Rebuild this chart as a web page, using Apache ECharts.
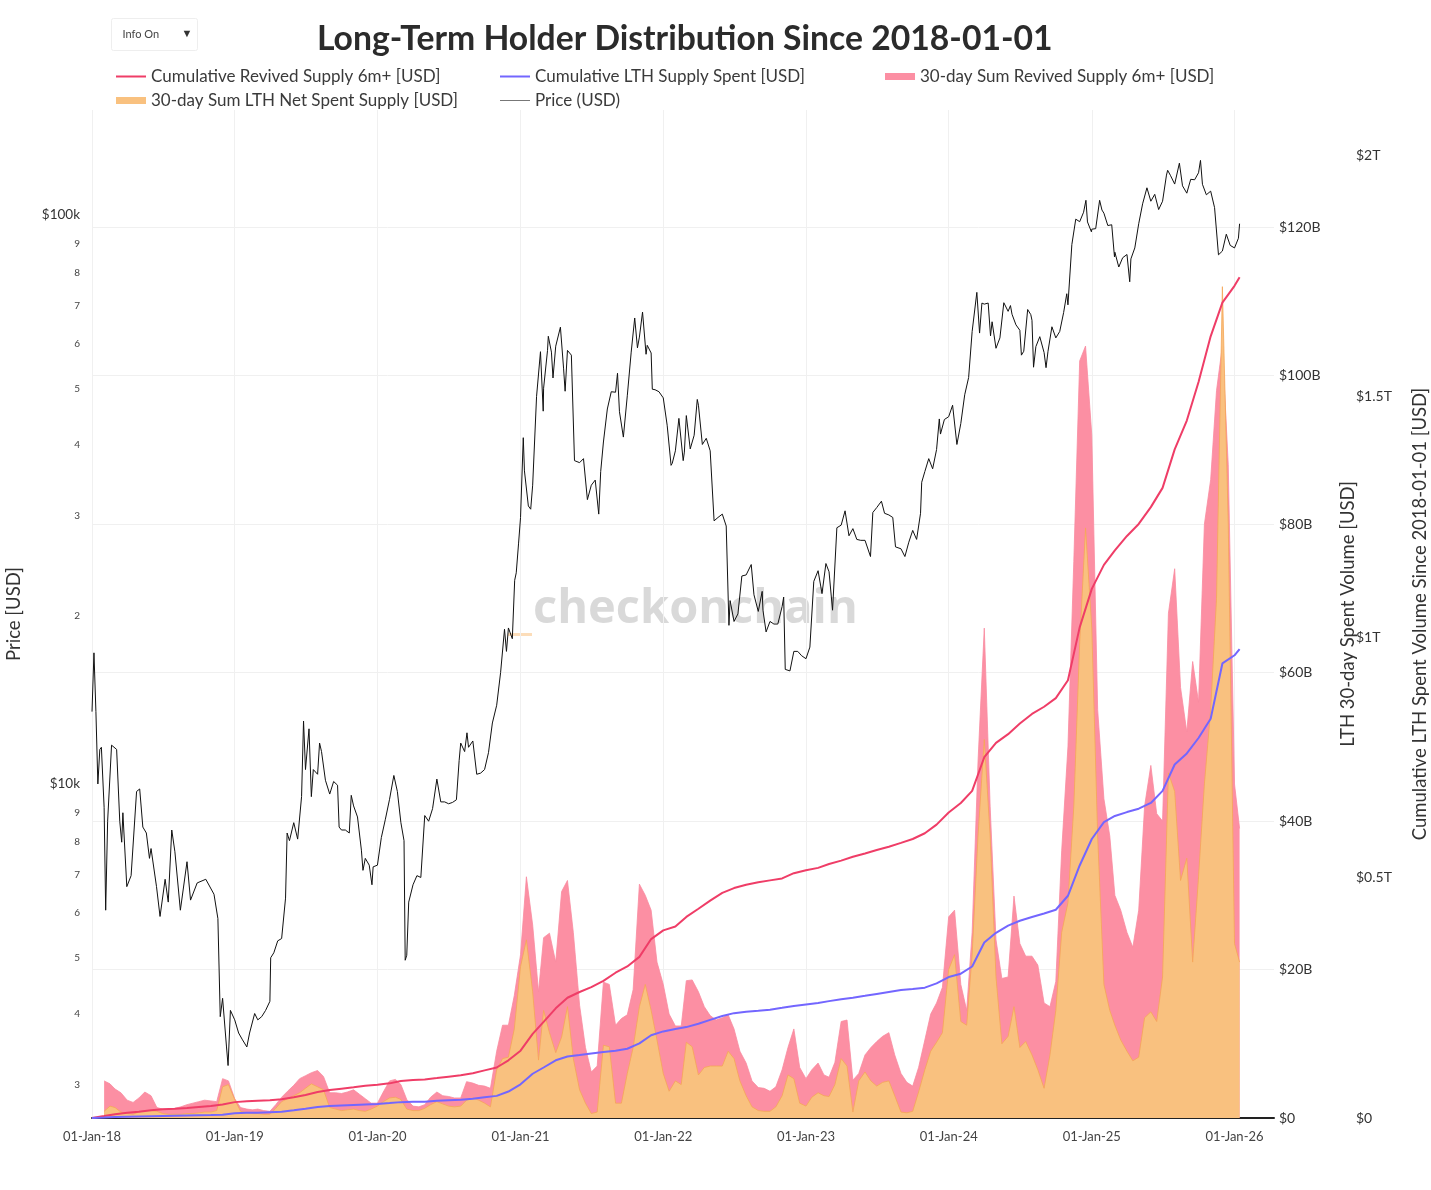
<!DOCTYPE html>
<html>
<head>
<meta charset="utf-8">
<script src="https://cdn.jsdelivr.net/npm/echarts@6/dist/echarts.min.js"></script>
<style>
html,body{margin:0;padding:0;background:#fff;}
#chart{width:1431px;height:1190px;}
</style>
</head>
<body>
<div id="chart"></div>
<script>
// ---------- DATA ----------
const priceTickValues = [3000,4000,5000,6000,7000,8000,9000,10000,20000,30000,40000,50000,60000,70000,80000,90000,100000];
const sumTickLabelsB = [0,20,40,60,80,100,120];
const cumTickLabelsT = [0,0.5,1,1.5,2];

// 30-day sums, semi-monthly (USD billions)
const areaDates = [
'2018-02-01','2018-02-16','2018-03-01','2018-03-16','2018-04-01','2018-04-16','2018-05-01','2018-05-16','2018-06-01','2018-06-16','2018-07-01','2018-07-16','2018-08-01','2018-08-16','2018-09-01','2018-09-16','2018-10-01','2018-10-16','2018-11-01','2018-11-16','2018-12-01','2018-12-16',
'2019-01-01','2019-01-16','2019-02-01','2019-02-16','2019-03-01','2019-03-16','2019-04-01','2019-04-16','2019-05-01','2019-05-16','2019-06-01','2019-06-16','2019-07-01','2019-07-16','2019-08-01','2019-08-16','2019-09-01','2019-09-16','2019-10-01','2019-10-16','2019-11-01','2019-11-16','2019-12-01','2019-12-16',
'2020-01-01','2020-01-16','2020-02-01','2020-02-16','2020-03-01','2020-03-16','2020-04-01','2020-04-16','2020-05-01','2020-05-16','2020-06-01','2020-06-16','2020-07-01','2020-07-16','2020-08-01','2020-08-16','2020-09-01','2020-09-16','2020-10-01','2020-10-16','2020-11-01','2020-11-16','2020-12-01','2020-12-16',
'2021-01-01','2021-01-16','2021-02-01','2021-02-16','2021-03-01','2021-03-16','2021-04-01','2021-04-16','2021-05-01','2021-05-16','2021-06-01','2021-06-16','2021-07-01','2021-07-16','2021-08-01','2021-08-16','2021-09-01','2021-09-16','2021-10-01','2021-10-16','2021-11-01','2021-11-16','2021-12-01','2021-12-16',
'2022-01-01','2022-01-16','2022-02-01','2022-02-16','2022-03-01','2022-03-16','2022-04-01','2022-04-16','2022-05-01','2022-05-16','2022-06-01','2022-06-16','2022-07-01','2022-07-16','2022-08-01','2022-08-16','2022-09-01','2022-09-16','2022-10-01','2022-10-16','2022-11-01','2022-11-16','2022-12-01','2022-12-16',
'2023-01-01','2023-01-16','2023-02-01','2023-02-16','2023-03-01','2023-03-16','2023-04-01','2023-04-16','2023-05-01','2023-05-16','2023-06-01','2023-06-16','2023-07-01','2023-07-16','2023-08-01','2023-08-16','2023-09-01','2023-09-16','2023-10-01','2023-10-16','2023-11-01','2023-11-16','2023-12-01','2023-12-16',
'2024-01-01','2024-01-16','2024-02-01','2024-02-16','2024-03-01','2024-03-16','2024-04-01','2024-04-16','2024-05-01','2024-05-16','2024-06-01','2024-06-16','2024-07-01','2024-07-16','2024-08-01','2024-08-16','2024-09-01','2024-09-16','2024-10-01','2024-10-16','2024-11-01','2024-11-16','2024-12-01','2024-12-16',
'2025-01-01','2025-01-16','2025-02-01','2025-02-16','2025-03-01','2025-03-16','2025-04-01','2025-04-16','2025-05-01','2025-05-16','2025-06-01','2025-06-16','2025-07-01','2025-07-16','2025-08-01','2025-08-16','2025-09-01','2025-09-16','2025-10-01','2025-10-16','2025-11-01','2025-11-16','2025-12-01','2025-12-16',
'2026-01-01','2026-01-14'];

const revived30dB = [
5.0,4.6,3.9,3.4,2.4,2.1,2.7,3.5,3.0,1.4,1.2,1.2,1.3,1.5,1.8,2.0,2.2,2.4,2.3,2.2,5.3,5.0,
2.6,1.4,1.2,1.1,1.2,1.0,0.9,1.8,2.8,3.6,4.4,5.3,5.7,6.1,6.4,5.6,3.4,3.4,3.3,3.5,3.8,3.2,2.6,2.0,
2.0,3.5,5.0,5.2,4.5,2.5,1.6,1.5,1.8,2.8,3.5,3.0,2.9,2.7,2.7,4.9,4.7,4.4,4.3,4.0,9.0,12.5,12.5,16.5,
22.0,32.5,26.0,17.0,24.3,24.9,21.0,30.5,32.0,25.0,15.2,9.5,6.2,7.0,18.3,18.0,12.5,13.4,13.9,17.3,31.5,30.0,28.0,21.0,
18.0,14.0,12.4,12.4,18.5,18.6,17.0,15.0,13.8,13.2,13.5,13.9,12.0,9.0,7.4,5.0,4.1,4.0,3.6,4.2,6.5,9.5,12.0,6.8,
5.3,6.5,7.4,5.8,5.5,7.5,13.0,13.2,5.1,6.0,8.5,9.5,10.3,11.0,11.5,8.5,6.0,4.8,4.3,6.8,10.5,14.0,15.5,17.6,
27.1,28.0,18.0,14.5,25.0,48.0,66.0,42.0,24.0,18.8,19.0,29.9,23.5,21.8,21.8,20.6,15.5,15.0,18.4,36.0,50.0,75.0,102.0,104.0,
92.0,55.0,43.0,38.0,30.0,28.0,25.0,23.0,28.0,42.0,47.5,41.0,40.0,68.0,74.0,58.0,52.0,61.5,56.0,80.0,86.0,98.0,104.0,88.0,
45.0,39.0];

const lthNet30dB = [
0.9,1.6,1.4,0.8,0.6,0.5,0.8,1.0,1.0,0.9,0.6,0.5,0.5,0.5,0.6,0.6,0.7,0.8,0.8,1.0,4.2,4.5,
2.5,0.9,0.7,0.6,0.6,0.5,0.5,1.3,2.2,2.6,3.0,3.4,4.0,4.6,4.2,3.8,1.4,1.2,1.0,1.1,1.2,1.0,0.9,1.2,
1.6,2.2,2.7,2.8,2.5,1.2,1.0,1.0,1.3,1.8,2.2,1.9,1.6,1.5,1.6,2.4,2.7,2.4,2.0,1.5,6.5,8.0,8.2,12.0,
20.4,24.0,17.0,7.8,14.5,11.5,8.8,10.9,15.0,8.0,3.8,2.0,0.6,0.8,9.8,9.6,2.0,2.0,6.0,9.5,15.0,18.0,14.5,10.5,
6.0,3.6,5.0,4.5,10.2,9.6,5.8,6.8,7.0,7.0,7.0,9.0,8.0,5.0,3.0,1.5,1.0,0.9,0.9,1.5,3.0,5.8,5.3,2.0,
1.6,2.8,3.4,3.0,2.9,4.5,8.0,7.0,0.8,5.0,6.2,5.0,4.3,4.8,5.0,3.0,0.8,0.7,0.9,3.5,6.5,9.0,10.2,11.5,
20.0,22.0,13.0,12.5,22.0,38.0,51.0,38.0,19.0,10.0,11.0,15.0,9.5,10.3,8.5,6.5,4.0,8.5,14.5,25.0,29.0,42.0,64.0,79.5,
66.0,38.0,18.0,14.5,12.5,10.5,9.0,7.7,8.2,13.5,14.3,13.0,19.0,46.5,44.0,32.0,35.0,21.0,32.5,45.0,55.0,70.0,112.0,80.0,
23.5,21.0];

// cumulative, monthly (USD trillions)
const cumDates = [
'2018-01-01','2018-02-01','2018-03-01','2018-04-01','2018-05-01','2018-06-01','2018-07-01','2018-08-01','2018-09-01','2018-10-01','2018-11-01','2018-12-01',
'2019-01-01','2019-02-01','2019-03-01','2019-04-01','2019-05-01','2019-06-01','2019-07-01','2019-08-01','2019-09-01','2019-10-01','2019-11-01','2019-12-01',
'2020-01-01','2020-02-01','2020-03-01','2020-04-01','2020-05-01','2020-06-01','2020-07-01','2020-08-01','2020-09-01','2020-10-01','2020-11-01','2020-12-01',
'2021-01-01','2021-02-01','2021-03-01','2021-04-01','2021-05-01','2021-06-01','2021-07-01','2021-08-01','2021-09-01','2021-10-01','2021-11-01','2021-12-01',
'2022-01-01','2022-02-01','2022-03-01','2022-04-01','2022-05-01','2022-06-01','2022-07-01','2022-08-01','2022-09-01','2022-10-01','2022-11-01','2022-12-01',
'2023-01-01','2023-02-01','2023-03-01','2023-04-01','2023-05-01','2023-06-01','2023-07-01','2023-08-01','2023-09-01','2023-10-01','2023-11-01','2023-12-01',
'2024-01-01','2024-02-01','2024-03-01','2024-04-01','2024-05-01','2024-06-01','2024-07-01','2024-08-01','2024-09-01','2024-10-01','2024-11-01','2024-12-01',
'2025-01-01','2025-02-01','2025-03-01','2025-04-01','2025-05-01','2025-06-01','2025-07-01','2025-08-01','2025-09-01','2025-10-01','2025-11-01','2025-12-01',
'2026-01-01','2026-01-14'];

const cumRevivedT = [
0,0.004,0.008,0.011,0.013,0.016,0.018,0.019,0.021,0.023,0.025,0.028,
0.033,0.035,0.036,0.037,0.039,0.043,0.048,0.054,0.058,0.061,0.064,0.067,
0.069,0.072,0.077,0.079,0.080,0.083,0.086,0.089,0.093,0.099,0.105,0.12,
0.14,0.175,0.20,0.228,0.25,0.262,0.272,0.285,0.302,0.315,0.335,0.372,
0.39,0.398,0.418,0.435,0.452,0.468,0.478,0.485,0.49,0.494,0.498,0.509,
0.515,0.52,0.528,0.535,0.543,0.55,0.557,0.564,0.572,0.58,0.592,0.61,
0.635,0.655,0.68,0.75,0.78,0.798,0.82,0.84,0.855,0.873,0.91,1.02,
1.10,1.15,1.18,1.21,1.235,1.27,1.31,1.39,1.45,1.53,1.625,1.695,
1.73,1.748];

const cumLthSpentT = [
0,0.001,0.002,0.0025,0.003,0.0035,0.004,0.0045,0.005,0.0055,0.006,0.007,
0.010,0.011,0.011,0.012,0.013,0.016,0.019,0.023,0.025,0.026,0.027,0.028,
0.029,0.031,0.033,0.034,0.034,0.036,0.037,0.038,0.040,0.043,0.046,0.055,
0.07,0.092,0.105,0.12,0.128,0.131,0.134,0.137,0.14,0.144,0.155,0.172,
0.18,0.185,0.189,0.196,0.204,0.212,0.218,0.221,0.223,0.225,0.229,0.233,
0.236,0.239,0.243,0.247,0.25,0.254,0.258,0.262,0.266,0.268,0.271,0.28,
0.293,0.30,0.315,0.365,0.385,0.40,0.41,0.418,0.425,0.433,0.462,0.525,
0.58,0.615,0.628,0.636,0.643,0.655,0.68,0.735,0.758,0.79,0.83,0.945,
0.962,0.975];

// BTC price (USD), [date, price]
const pricePoints = [
['2018-01-01',13400],['2018-01-06',17000],['2018-01-11',13400],['2018-01-16',10000],['2018-01-21',11500],['2018-01-25',11600],
['2018-02-01',9100],['2018-02-05',6000],['2018-02-10',8600],['2018-02-20',11700],['2018-03-05',11500],['2018-03-13',8600],
['2018-03-18',7900],['2018-03-21',8900],['2018-03-31',6600],['2018-04-11',6900],['2018-04-25',9700],['2018-05-03',9800],
['2018-05-11',8400],['2018-05-20',8200],['2018-05-28',7400],['2018-06-01',7700],['2018-06-15',6600],['2018-06-24',5850],
['2018-07-07',6800],['2018-07-15',6200],['2018-07-24',8300],['2018-08-01',7600],['2018-08-15',6000],['2018-09-01',7300],
['2018-09-10',6250],['2018-09-27',6700],['2018-10-19',6800],['2018-11-09',6400],['2018-11-19',5800],['2018-11-25',3900],
['2018-12-01',4200],['2018-12-11',3450],['2018-12-15',3200],['2018-12-21',4000],
['2019-01-01',3850],['2019-01-11',3650],['2019-01-21',3550],['2019-02-01',3450],['2019-02-08',3650],['2019-02-21',3950],
['2019-03-01',3850],['2019-03-11',3900],['2019-03-21',4000],['2019-04-01',4150],['2019-04-03',4950],['2019-04-11',5050],
['2019-04-21',5300],['2019-05-01',5350],['2019-05-11',6300],['2019-05-15',8200],['2019-05-21',7950],['2019-06-01',8550],
['2019-06-11',8000],['2019-06-21',9500],['2019-06-26',12900],['2019-07-01',10600],['2019-07-10',12500],['2019-07-16',9500],
['2019-07-21',10600],['2019-08-01',10400],['2019-08-06',11800],['2019-08-11',11400],['2019-08-21',10150],['2019-09-01',9600],
['2019-09-11',10100],['2019-09-21',9950],['2019-09-25',8400],['2019-10-01',8300],['2019-10-11',8300],['2019-10-21',8200],
['2019-10-26',9550],['2019-11-01',9150],['2019-11-11',8750],['2019-11-21',7650],['2019-11-25',7050],['2019-12-01',7400],
['2019-12-11',7200],['2019-12-18',6650],['2019-12-21',7150],
['2020-01-01',7200],['2020-01-11',8050],['2020-01-21',8650],['2020-02-01',9400],['2020-02-12',10350],['2020-02-21',9700],
['2020-03-01',8550],['2020-03-09',7950],['2020-03-12',4900],['2020-03-16',5000],['2020-03-21',6200],['2020-04-01',6650],
['2020-04-11',6900],['2020-04-21',6850],['2020-05-01',8800],['2020-05-11',8600],['2020-05-21',9050],['2020-06-01',10200],
['2020-06-11',9300],['2020-06-21',9300],['2020-07-01',9230],['2020-07-11',9280],['2020-07-21',9380],['2020-07-28',11000],
['2020-08-01',11800],['2020-08-11',11400],['2020-08-17',12300],['2020-08-21',11600],['2020-09-01',11900],['2020-09-11',10400],
['2020-09-21',10450],['2020-10-01',10600],['2020-10-11',11350],['2020-10-21',12800],['2020-11-01',13750],['2020-11-11',15700],
['2020-11-21',18700],['2020-11-26',17100],['2020-12-01',18800],['2020-12-11',18000],['2020-12-17',22800],['2020-12-21',23500],
['2020-12-27',26500],
['2021-01-01',29400],['2021-01-08',40600],['2021-01-11',35500],['2021-01-21',30800],['2021-01-27',30400],['2021-02-01',33500],
['2021-02-11',48000],['2021-02-21',57500],['2021-02-28',45200],['2021-03-01',49600],['2021-03-11',57800],['2021-03-13',61200],
['2021-03-21',57400],['2021-03-25',51700],['2021-04-01',58800],['2021-04-13',63500],['2021-04-21',53800],['2021-04-25',49000],
['2021-05-01',57800],['2021-05-11',56700],['2021-05-19',37000],['2021-05-21',37300],['2021-06-01',36700],['2021-06-11',37300],
['2021-06-21',31600],['2021-07-01',33500],['2021-07-11',34200],['2021-07-20',29800],['2021-07-25',35400],['2021-08-01',39900],
['2021-08-11',45600],['2021-08-21',48900],['2021-09-01',48800],['2021-09-06',52700],['2021-09-11',45100],['2021-09-21',40700],
['2021-10-01',48100],['2021-10-11',57400],['2021-10-20',65900],['2021-10-27',58400],['2021-11-01',61000],['2021-11-09',67500],
['2021-11-18',56900],['2021-11-21',59000],['2021-12-01',57200],['2021-12-04',49400],['2021-12-11',49300],['2021-12-21',48900],
['2022-01-01',47700],['2022-01-11',42700],['2022-01-21',36300],['2022-01-24',36600],['2022-02-01',38500],['2022-02-10',43900],
['2022-02-21',37000],['2022-02-24',38300],['2022-03-01',44400],['2022-03-11',38800],['2022-03-21',41000],['2022-03-29',47400],
['2022-04-01',46300],['2022-04-11',39500],['2022-04-21',40500],['2022-05-01',38500],['2022-05-11',29000],['2022-05-21',29400],
['2022-06-01',29800],['2022-06-11',28400],['2022-06-18',19000],['2022-06-21',21000],['2022-07-01',19300],['2022-07-11',19900],
['2022-07-21',23200],['2022-08-01',23300],['2022-08-14',24300],['2022-08-21',21500],['2022-09-01',20100],['2022-09-11',21800],
['2022-09-13',20200],['2022-09-21',18500],['2022-10-01',19300],['2022-10-11',19100],['2022-10-21',19100],['2022-11-01',20500],
['2022-11-05',21300],['2022-11-09',15900],['2022-11-21',15800],['2022-12-01',17100],['2022-12-11',17100],['2022-12-21',16800],
['2023-01-01',16600],['2023-01-11',17400],['2023-01-21',22700],['2023-02-01',23700],['2023-02-11',21600],['2023-02-21',24400],
['2023-03-01',23600],['2023-03-10',20200],['2023-03-21',28200],['2023-04-01',28500],['2023-04-11',30200],['2023-04-21',27300],
['2023-05-01',28100],['2023-05-11',26900],['2023-05-21',26800],['2023-06-01',26800],['2023-06-15',25100],['2023-06-21',30000],
['2023-07-01',30600],['2023-07-13',31400],['2023-07-21',29900],['2023-08-01',29700],['2023-08-11',29400],['2023-08-18',26100],
['2023-08-21',26100],['2023-09-01',25900],['2023-09-11',25100],['2023-09-21',26600],['2023-10-01',27900],['2023-10-11',26900],
['2023-10-21',29900],['2023-10-24',33900],['2023-11-01',35400],['2023-11-11',37300],['2023-11-21',35800],['2023-12-01',38700],
['2023-12-08',43800],['2023-12-11',41200],['2023-12-21',43700],
['2024-01-01',44200],['2024-01-11',46300],['2024-01-22',39500],['2024-02-01',43000],['2024-02-11',48300],['2024-02-21',51800],
['2024-03-01',62400],['2024-03-13',73100],['2024-03-20',62000],['2024-03-26',70000],['2024-04-01',69700],['2024-04-11',70000],
['2024-04-17',61300],['2024-04-21',64900],['2024-05-01',58300],['2024-05-11',60800],['2024-05-21',70100],['2024-06-01',67700],
['2024-06-07',69300],['2024-06-11',66900],['2024-06-21',64100],['2024-07-01',62700],['2024-07-05',56700],['2024-07-11',57600],
['2024-07-21',68200],['2024-07-29',66800],['2024-08-01',65300],['2024-08-05',54000],['2024-08-11',58700],['2024-08-21',61100],
['2024-09-01',57300],['2024-09-06',53900],['2024-09-11',57600],['2024-09-21',63600],['2024-10-01',60800],['2024-10-11',62400],
['2024-10-21',67400],['2024-10-29',72700],['2024-11-01',69500],['2024-11-11',88700],['2024-11-21',98300],['2024-12-01',97300],
['2024-12-11',101100],['2024-12-17',106100],['2024-12-21',97200],['2024-12-31',93400],
['2025-01-01',94400],['2025-01-11',94600],['2025-01-21',106100],['2025-01-27',102000],['2025-02-01',100700],['2025-02-11',95800],
['2025-02-21',96100],['2025-02-28',84400],['2025-03-01',86000],['2025-03-11',81000],['2025-03-21',84100],['2025-04-01',85200],
['2025-04-08',76300],['2025-04-11',83700],['2025-04-21',87500],['2025-05-01',96500],['2025-05-11',104600],['2025-05-22',111600],
['2025-06-01',105700],['2025-06-11',108700],['2025-06-21',102200],['2025-07-01',105700],['2025-07-11',117500],['2025-07-14',119800],
['2025-07-21',117400],['2025-08-01',113300],['2025-08-13',123300],['2025-08-21',112500],['2025-09-01',109200],['2025-09-11',115500],
['2025-09-21',115300],['2025-10-01',118600],['2025-10-06',124700],['2025-10-11',113200],['2025-10-21',108500],['2025-11-01',110100],
['2025-11-11',103000],['2025-11-21',85100],['2025-12-01',86400],['2025-12-11',92500],['2025-12-21',88400],
['2026-01-01',87500],['2026-01-11',91000],['2026-01-14',96500]];

// ---------- CHART ----------
const PRICE_MIN = 2588, PRICE_MAX = 152900;
const SUM_MAX_B = 135.8, CUM_MAX_T = 2.0956;
const FONT = 'Lato, "Open Sans", sans-serif';
const MONTHS = ['Jan','Feb','Mar','Apr','May','Jun','Jul','Aug','Sep','Oct','Nov','Dec'];
const YEAR_MS = 365 * 24 * 3600 * 1000;

const zip = (xs, ys) => xs.map((x, i) => [x, ys[i]]);

const chart = echarts.init(document.getElementById('chart'), null, {renderer: 'canvas'});

function legendBox(name, left, top, h) {
  return {
    data: [name], left: left, top: top, padding: 0, icon: 'rect',
    itemWidth: 30, itemHeight: h, selectedMode: false,
    textStyle: {fontSize: 17, color: '#3a3a3a', fontFamily: FONT}
  };
}

const NAME_STYLE = {fontSize: 18.5, color: '#333', fontFamily: FONT};

const option = {
  animation: false,
  useUTC: true,
  backgroundColor: '#ffffff',
  textStyle: {fontFamily: FONT},
  title: {
    text: 'Long-Term Holder Distribution Since 2018-01-01',
    left: 317, top: 22, padding: 0,
    textStyle: {fontSize: 33.7, fontWeight: 'bold', color: '#2b2b2b', fontFamily: FONT}
  },
  legend: [
    legendBox('Cumulative Revived Supply 6m+ [USD]', 116, 68, 2),
    legendBox('Cumulative LTH Supply Spent [USD]', 500, 68, 2),
    legendBox('30-day Sum Revived Supply 6m+ [USD]', 885, 68, 7),
    legendBox('30-day Sum LTH Net Spent Supply [USD]', 116, 92, 7),
    legendBox('Price (USD)', 500, 92, 1)
  ],
  grid: {left: 92, right: 157, top: 110, bottom: 72, containLabel: false, outerBoundsMode: 'none'},
  xAxis: {
    type: 'time',
    min: '2018-01-01', max: '2026-04-12',
    minInterval: YEAR_MS, maxInterval: YEAR_MS,
    axisLine: {show: true, lineStyle: {color: '#222', width: 2}},
    axisTick: {show: false},
    splitLine: {show: true, showMaxLine: false, lineStyle: {color: '#f0f0f0', width: 1}},
    axisLabel: {
      margin: 12, fontSize: 13, color: '#444', fontFamily: FONT,
      showMinLabel: true, showMaxLabel: false, hideOverlap: false,
      formatter: function (v) {
        const d = new Date(v);
        return '01-' + MONTHS[d.getUTCMonth()] + '-' + String(d.getUTCFullYear()).slice(2);
      }
    }
  },
  yAxis: [
    { // 0: price, log scale (drawing)
      type: 'log', logBase: 10, min: PRICE_MIN, max: PRICE_MAX, position: 'left',
      axisLine: {show: false}, axisTick: {show: false}, axisLabel: {show: false}, splitLine: {show: false}
    },
    { // 1: price labels (same log mapping expressed in log10 units)
      type: 'value', min: Math.log10(PRICE_MIN), max: Math.log10(PRICE_MAX), position: 'left',
      name: 'Price [USD]', nameLocation: 'middle', nameGap: 68, nameTextStyle: NAME_STYLE,
      axisLine: {show: false}, axisTick: {show: false}, splitLine: {show: false},
      axisLabel: {
        customValues: priceTickValues.map(v => Math.log10(v)), margin: 12,
        formatter: function (v) {
          const p = Math.round(Math.pow(10, v));
          if (p === 10000) return '{big|$10k}';
          if (p === 100000) return '{big|$100k}';
          return '{small|' + String(p)[0] + '}';
        },
        rich: {
          big: {fontSize: 13.5, color: '#333', fontFamily: FONT},
          small: {fontSize: 10, color: '#444', fontFamily: FONT, padding: [6, 0, 0, 0]}
        }
      }
    },
    { // 2: 30-day sums (billions)
      type: 'value', min: 0, max: SUM_MAX_B, interval: 20, position: 'right', offset: 0,
      name: 'LTH 30-day Spent Volume [USD]', nameLocation: 'middle', nameGap: 65, nameTextStyle: NAME_STYLE,
      axisLine: {show: false}, axisTick: {show: false},
      splitLine: {show: true, showMaxLine: false, lineStyle: {color: '#f0f0f0', width: 1}},
      axisLabel: {
        customValues: sumTickLabelsB, margin: 5, fontSize: 14, color: '#333', fontFamily: FONT,
        formatter: v => v === 0 ? '$0' : '$' + v + 'B'
      }
    },
    { // 3: cumulative (trillions)
      type: 'value', min: 0, max: CUM_MAX_T, interval: 0.5, position: 'right', offset: 77,
      name: 'Cumulative LTH Spent Volume Since 2018-01-01 [USD]', nameLocation: 'middle', nameGap: 60, nameTextStyle: NAME_STYLE,
      axisLine: {show: false}, axisTick: {show: false}, splitLine: {show: false},
      axisLabel: {
        customValues: cumTickLabelsT, margin: 5, fontSize: 14, color: '#333', fontFamily: FONT,
        formatter: v => v === 0 ? '$0' : '$' + v + 'T'
      }
    }
  ],
  graphic: [
    {
      type: 'group', left: 111, top: 18, children: [
        {type: 'rect', shape: {x: 0, y: 0, width: 86, height: 32, r: 2}, style: {fill: '#fff', stroke: '#eeeeee', lineWidth: 1}},
        {type: 'text', x: 11, y: 16, style: {text: 'Info On', font: '11px ' + FONT, fill: '#444', verticalAlign: 'middle'}},
        {type: 'text', x: 70, y: 15, style: {text: '\u25BC', font: '11px ' + FONT, fill: '#333', verticalAlign: 'middle'}}
      ]
    },
    {
      type: 'text', left: 533, top: 586, z: 0, silent: true,
      style: {text: 'checkonchain', font: 'bold 47px "Open Sans", sans-serif', fill: 'rgba(120,120,120,0.28)'}
    },
    {
      type: 'rect', left: 508, top: 633, z: 0, silent: true,
      shape: {width: 24, height: 3}, style: {fill: 'rgba(249,193,127,0.55)'}
    }
  ],
  series: [
    {
      name: '30-day Sum Revived Supply 6m+ [USD]', type: 'line', yAxisIndex: 2, z: 2,
      data: zip(areaDates, revived30dB), showSymbol: false, symbol: 'none',
      color: '#fc8fa3',
      lineStyle: {color: '#f98aa0', width: 0.8},
      areaStyle: {color: '#fc8fa3', opacity: 1}
    },
    {
      name: '30-day Sum LTH Net Spent Supply [USD]', type: 'line', yAxisIndex: 2, z: 3,
      data: zip(areaDates, lthNet30dB), showSymbol: false, symbol: 'none',
      color: '#f9c17f',
      lineStyle: {color: '#f5a657', width: 0.8},
      areaStyle: {color: '#f9c17f', opacity: 1}
    },
    {
      name: 'Cumulative Revived Supply 6m+ [USD]', type: 'line', yAxisIndex: 3, z: 4,
      data: zip(cumDates, cumRevivedT), showSymbol: false, symbol: 'none',
      color: '#ef3d67', lineStyle: {color: '#ef3d67', width: 2}
    },
    {
      name: 'Cumulative LTH Supply Spent [USD]', type: 'line', yAxisIndex: 3, z: 4,
      data: zip(cumDates, cumLthSpentT), showSymbol: false, symbol: 'none',
      color: '#7366ff', lineStyle: {color: '#7366ff', width: 2}
    },
    {
      name: 'Price (USD)', type: 'line', yAxisIndex: 0, z: 5,
      data: pricePoints, showSymbol: false, symbol: 'none',
      color: '#777777', lineStyle: {color: '#111111', width: 1}
    }
  ]
};

chart.setOption(option);
</script>
</body>
</html>
